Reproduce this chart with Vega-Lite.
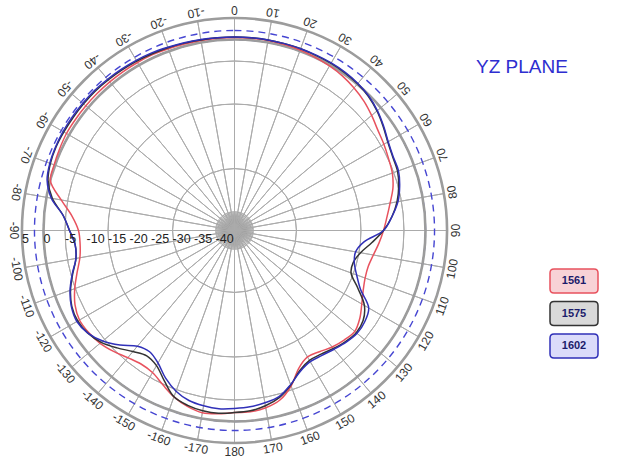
{
  "$schema": "https://vega.github.io/schema/vega-lite/v6.json",
  "width": 425,
  "height": 425,
  "autosize": "none",
  "padding": {"left": 22, "top": 18, "right": 176, "bottom": 16},
  "background": "white",
  "config": {"view": {"stroke": null}},
  "title": {"text": "YZ PLANE", "anchor": "start", "frame": "group", "orient": "top", "offset": 0, "dx": 454, "dy": 88, "baseline": "alphabetic", "align": "left", "font": "Liberation Sans", "fontSize": 19, "fontWeight": "normal", "color": "#2e2ed0"},
  "datasets": {
    "rings": [{"v": 0}, {"v": -5}, {"v": -10}, {"v": -15}, {"v": -20}, {"v": -25}, {"v": -30}, {"v": -35}, {"v": -40}],
    "ringlabels": [{"v": 5}, {"v": 0}, {"v": -5}, {"v": -10}, {"v": -15}, {"v": -20}, {"v": -25}, {"v": -30}, {"v": -35}, {"v": -40}],
    "border": [{"v": 5}],
    "dashed": [{"v": 2.1}],
    "spokes": [{"a":0,"a2":10,"v":5},{"a":10,"a2":20,"v":5},{"a":20,"a2":30,"v":5},{"a":30,"a2":40,"v":5},{"a":40,"a2":50,"v":5},{"a":50,"a2":60,"v":5},{"a":60,"a2":70,"v":5},{"a":70,"a2":80,"v":5},{"a":80,"a2":90,"v":5},{"a":90,"a2":100,"v":5},{"a":100,"a2":110,"v":5},{"a":110,"a2":120,"v":5},{"a":120,"a2":130,"v":5},{"a":130,"a2":140,"v":5},{"a":140,"a2":150,"v":5},{"a":150,"a2":160,"v":5},{"a":160,"a2":170,"v":5},{"a":170,"a2":180,"v":5},{"a":180,"a2":190,"v":5},{"a":190,"a2":200,"v":5},{"a":200,"a2":210,"v":5},{"a":210,"a2":220,"v":5},{"a":220,"a2":230,"v":5},{"a":230,"a2":240,"v":5},{"a":240,"a2":250,"v":5},{"a":250,"a2":260,"v":5},{"a":260,"a2":270,"v":5},{"a":270,"a2":280,"v":5},{"a":280,"a2":290,"v":5},{"a":290,"a2":300,"v":5},{"a":300,"a2":310,"v":5},{"a":310,"a2":320,"v":5},{"a":320,"a2":330,"v":5},{"a":330,"a2":340,"v":5},{"a":340,"a2":350,"v":5},{"a":350,"a2":360,"v":5}],
    "star": [{"a":0,"a2":4,"v":-40},{"a":4,"a2":8,"v":-40},{"a":8,"a2":12,"v":-40},{"a":12,"a2":16,"v":-40},{"a":16,"a2":20,"v":-40},{"a":20,"a2":24,"v":-40},{"a":24,"a2":28,"v":-40},{"a":28,"a2":32,"v":-40},{"a":32,"a2":36,"v":-40},{"a":36,"a2":40,"v":-40},{"a":40,"a2":44,"v":-40},{"a":44,"a2":48,"v":-40},{"a":48,"a2":52,"v":-40},{"a":52,"a2":56,"v":-40},{"a":56,"a2":60,"v":-40},{"a":60,"a2":64,"v":-40},{"a":64,"a2":68,"v":-40},{"a":68,"a2":72,"v":-40},{"a":72,"a2":76,"v":-40},{"a":76,"a2":80,"v":-40},{"a":80,"a2":84,"v":-40},{"a":84,"a2":88,"v":-40},{"a":88,"a2":92,"v":-40},{"a":92,"a2":96,"v":-40},{"a":96,"a2":100,"v":-40},{"a":100,"a2":104,"v":-40},{"a":104,"a2":108,"v":-40},{"a":108,"a2":112,"v":-40},{"a":112,"a2":116,"v":-40},{"a":116,"a2":120,"v":-40},{"a":120,"a2":124,"v":-40},{"a":124,"a2":128,"v":-40},{"a":128,"a2":132,"v":-40},{"a":132,"a2":136,"v":-40},{"a":136,"a2":140,"v":-40},{"a":140,"a2":144,"v":-40},{"a":144,"a2":148,"v":-40},{"a":148,"a2":152,"v":-40},{"a":152,"a2":156,"v":-40},{"a":156,"a2":160,"v":-40},{"a":160,"a2":164,"v":-40},{"a":164,"a2":168,"v":-40},{"a":168,"a2":172,"v":-40},{"a":172,"a2":176,"v":-40},{"a":176,"a2":180,"v":-40},{"a":180,"a2":184,"v":-40},{"a":184,"a2":188,"v":-40},{"a":188,"a2":192,"v":-40},{"a":192,"a2":196,"v":-40},{"a":196,"a2":200,"v":-40},{"a":200,"a2":204,"v":-40},{"a":204,"a2":208,"v":-40},{"a":208,"a2":212,"v":-40},{"a":212,"a2":216,"v":-40},{"a":216,"a2":220,"v":-40},{"a":220,"a2":224,"v":-40},{"a":224,"a2":228,"v":-40},{"a":228,"a2":232,"v":-40},{"a":232,"a2":236,"v":-40},{"a":236,"a2":240,"v":-40},{"a":240,"a2":244,"v":-40},{"a":244,"a2":248,"v":-40},{"a":248,"a2":252,"v":-40},{"a":252,"a2":256,"v":-40},{"a":256,"a2":260,"v":-40},{"a":260,"a2":264,"v":-40},{"a":264,"a2":268,"v":-40},{"a":268,"a2":272,"v":-40},{"a":272,"a2":276,"v":-40},{"a":276,"a2":280,"v":-40},{"a":280,"a2":284,"v":-40},{"a":284,"a2":288,"v":-40},{"a":288,"a2":292,"v":-40},{"a":292,"a2":296,"v":-40},{"a":296,"a2":300,"v":-40},{"a":300,"a2":304,"v":-40},{"a":304,"a2":308,"v":-40},{"a":308,"a2":312,"v":-40},{"a":312,"a2":316,"v":-40},{"a":316,"a2":320,"v":-40},{"a":320,"a2":324,"v":-40},{"a":324,"a2":328,"v":-40},{"a":328,"a2":332,"v":-40},{"a":332,"a2":336,"v":-40},{"a":336,"a2":340,"v":-40},{"a":340,"a2":344,"v":-40},{"a":344,"a2":348,"v":-40},{"a":348,"a2":352,"v":-40},{"a":352,"a2":356,"v":-40},{"a":356,"a2":360,"v":-40}],
    "anglabels": [{"a":0,"t":"0"},{"a":10,"t":"10"},{"a":20,"t":"20"},{"a":30,"t":"30"},{"a":40,"t":"40"},{"a":50,"t":"50"},{"a":60,"t":"60"},{"a":70,"t":"70"},{"a":80,"t":"80"},{"a":90,"t":"90"},{"a":100,"t":"100"},{"a":110,"t":"110"},{"a":120,"t":"120"},{"a":130,"t":"130"},{"a":140,"t":"140"},{"a":150,"t":"150"},{"a":160,"t":"160"},{"a":170,"t":"170"},{"a":180,"t":"180"},{"a":190,"t":"-170"},{"a":200,"t":"-160"},{"a":210,"t":"-150"},{"a":220,"t":"-140"},{"a":230,"t":"-130"},{"a":240,"t":"-120"},{"a":250,"t":"-110"},{"a":260,"t":"-100"},{"a":270,"t":"-90"},{"a":280,"t":"-80"},{"a":290,"t":"-70"},{"a":300,"t":"-60"},{"a":310,"t":"-50"},{"a":320,"t":"-40"},{"a":330,"t":"-30"},{"a":340,"t":"-20"},{"a":350,"t":"-10"}],
    "pattern": [
      {"a":-180,"1561":-2.09,"1575":-2.09,"1602":-3.02},
      {"a":-175,"1561":-1.63,"1575":-1.74,"1602":-2.79},
      {"a":-170,"1561":-1.39,"1575":-1.86,"1602":-3.02},
      {"a":-165,"1561":-2.09,"1575":-2.32,"1602":-3.49},
      {"a":-160,"1561":-3.25,"1575":-3.25,"1602":-4.65},
      {"a":-155,"1561":-4.88,"1575":-5.81,"1602":-6.51},
      {"a":-150,"1561":-6.27,"1575":-8.13,"1602":-8.83},
      {"a":-145,"1561":-6.51,"1575":-8.83,"1602":-9.99},
      {"a":-140,"1561":-5.81,"1575":-7.67,"1602":-9.30},
      {"a":-135,"1561":-4.65,"1575":-5.81,"1602":-6.74},
      {"a":-130,"1561":-3.60,"1575":-3.95,"1602":-4.42},
      {"a":-125,"1561":-3.02,"1575":-2.79,"1602":-2.79},
      {"a":-120,"1561":-2.79,"1575":-2.32,"1602":-2.09},
      {"a":-115,"1561":-3.49,"1575":-2.67,"1602":-2.56},
      {"a":-110,"1561":-4.88,"1575":-3.83,"1602":-3.72},
      {"a":-105,"1561":-6.51,"1575":-5.46,"1602":-5.35},
      {"a":-100,"1561":-7.90,"1575":-6.97,"1602":-6.97},
      {"a":-95,"1561":-8.37,"1575":-7.20,"1602":-7.20},
      {"a":-90,"1561":-8.13,"1575":-6.04,"1602":-6.04},
      {"a":-85,"1561":-6.51,"1575":-4.42,"1602":-4.42},
      {"a":-80,"1561":-3.49,"1575":-1.39,"1602":-1.16},
      {"a":-75,"1561":-0.11,"1575":0.47,"1602":0.70},
      {"a":-70,"1561":0.23,"1575":1.16,"1602":1.28},
      {"a":-65,"1561":0.47,"1575":1.40,"1602":1.51},
      {"a":-60,"1561":0.70,"1575":1.40,"1602":1.63},
      {"a":-55,"1561":0.70,"1575":1.40,"1602":1.63},
      {"a":-50,"1561":0.70,"1575":1.40,"1602":1.63},
      {"a":-45,"1561":0.70,"1575":1.40,"1602":1.63},
      {"a":-40,"1561":0.70,"1575":1.28,"1602":1.51},
      {"a":-35,"1561":0.70,"1575":1.16,"1602":1.40},
      {"a":-30,"1561":0.70,"1575":1.05,"1602":1.28},
      {"a":-25,"1561":0.70,"1575":0.93,"1602":1.16},
      {"a":-20,"1561":0.58,"1575":0.81,"1602":0.93},
      {"a":-15,"1561":0.47,"1575":0.70,"1602":0.81},
      {"a":-10,"1561":0.47,"1575":0.58,"1602":0.70},
      {"a":-5,"1561":0.47,"1575":0.58,"1602":0.58},
      {"a":0,"1561":0.47,"1575":0.58,"1602":0.58},
      {"a":5,"1561":0.47,"1575":0.58,"1602":0.58},
      {"a":10,"1561":0.47,"1575":0.58,"1602":0.58},
      {"a":15,"1561":0.35,"1575":0.58,"1602":0.58},
      {"a":20,"1561":0.23,"1575":0.58,"1602":0.58},
      {"a":25,"1561":0.00,"1575":0.47,"1602":0.58},
      {"a":30,"1561":-0.23,"1575":0.47,"1602":0.58},
      {"a":35,"1561":-0.58,"1575":0.35,"1602":0.47},
      {"a":40,"1561":-1.16,"1575":0.12,"1602":0.23},
      {"a":45,"1561":-1.86,"1575":-0.35,"1602":-0.23},
      {"a":50,"1561":-2.79,"1575":-1.16,"1602":-1.04},
      {"a":55,"1561":-3.72,"1575":-2.21,"1602":-2.09},
      {"a":60,"1561":-4.30,"1575":-3.25,"1602":-3.14},
      {"a":65,"1561":-4.88,"1575":-3.83,"1602":-3.72},
      {"a":70,"1561":-5.35,"1575":-4.07,"1602":-3.83},
      {"a":75,"1561":-6.27,"1575":-4.88,"1602":-4.65},
      {"a":80,"1561":-7.67,"1575":-6.04,"1602":-5.81},
      {"a":85,"1561":-8.83,"1575":-7.67,"1602":-7.67},
      {"a":90,"1561":-9.76,"1575":-9.76,"1602":-9.76},
      {"a":95,"1561":-10.69,"1575":-12.32,"1602":-14.18},
      {"a":100,"1561":-11.62,"1575":-14.64,"1602":-15.81},
      {"a":105,"1561":-12.20,"1575":-15.81,"1602":-15.57},
      {"a":110,"1561":-12.09,"1575":-15.57,"1602":-14.18},
      {"a":115,"1561":-11.39,"1575":-12.78,"1602":-12.09},
      {"a":120,"1561":-10.23,"1575":-9.53,"1602":-8.37},
      {"a":125,"1561":-8.83,"1575":-7.90,"1602":-7.44},
      {"a":130,"1561":-7.90,"1575":-7.44,"1602":-7.20},
      {"a":135,"1561":-8.37,"1575":-7.90,"1602":-7.67},
      {"a":140,"1561":-9.06,"1575":-8.60,"1602":-8.37},
      {"a":145,"1561":-9.99,"1575":-9.30,"1602":-8.95},
      {"a":150,"1561":-10.46,"1575":-9.53,"1602":-9.18},
      {"a":155,"1561":-9.06,"1575":-8.48,"1602":-8.25},
      {"a":160,"1561":-5.93,"1575":-6.16,"1602":-6.27},
      {"a":165,"1561":-3.60,"1575":-4.18,"1602":-4.42},
      {"a":170,"1561":-2.56,"1575":-3.02,"1602":-3.72},
      {"a":175,"1561":-2.09,"1575":-2.32,"1602":-3.25},
      {"a":180,"1561":-2.09,"1575":-2.09,"1602":-3.02}
    ]
  },
  "layer": [
    {
      "data": {"name": "rings"},
      "mark": {"type": "arc", "filled": false, "stroke": "#ababab", "strokeWidth": 1, "theta": 0, "theta2": 6.2832},
      "encoding": {
        "radius": {"field": "v", "type": "quantitative", "scale": {"type": "linear", "domain": [-44.4, 5], "range": [0, 212.5], "zero": false}},
        "radius2": {"value": 0}
      }
    },
    {
      "data": {"name": "star"},
      "mark": {"type": "arc", "filled": false, "stroke": "#8a8a8a", "strokeWidth": 0.5},
      "encoding": {
        "theta": {"field": "a", "type": "quantitative", "stack": null, "scale": {"type": "linear", "domain": [0, 360], "range": [0, 6.283185307179586]}},
        "theta2": {"field": "a2"},
        "radius": {"field": "v", "type": "quantitative", "scale": {"type": "linear", "domain": [-44.4, 5], "range": [0, 212.5], "zero": false}},
        "radius2": {"value": 0}
      }
    },
    {
      "data": {"name": "spokes"},
      "mark": {"type": "arc", "filled": false, "stroke": "#ababab", "strokeWidth": 1},
      "encoding": {
        "theta": {"field": "a", "type": "quantitative", "stack": null, "scale": {"type": "linear", "domain": [0, 360], "range": [0, 6.283185307179586]}},
        "theta2": {"field": "a2"},
        "radius": {"field": "v", "type": "quantitative", "scale": {"type": "linear", "domain": [-44.4, 5], "range": [0, 212.5], "zero": false}},
        "radius2": {"value": 0}
      }
    },
    {
      "data": {"name": "dashed"},
      "mark": {"type": "arc", "filled": false, "stroke": "#4646d2", "strokeWidth": 1.4, "strokeDash": [7, 5], "theta": 0, "theta2": 6.2832},
      "encoding": {
        "radius": {"field": "v", "type": "quantitative", "scale": {"type": "linear", "domain": [-44.4, 5], "range": [0, 212.5], "zero": false}},
        "radius2": {"value": 0}
      }
    },
    {
      "data": {"name": "border"},
      "mark": {"type": "arc", "filled": false, "stroke": "#9c9c9c", "strokeWidth": 2.6, "theta": 0, "theta2": 6.2832},
      "encoding": {
        "radius": {"field": "v", "type": "quantitative", "scale": {"type": "linear", "domain": [-44.4, 5], "range": [0, 212.5], "zero": false}},
        "radius2": {"value": 0}
      }
    },
    {
      "data": {"name": "pattern"},
      "transform": [
        {"fold": ["1561", "1575", "1602"], "as": ["f", "g"]},
        {"calculate": "(datum.g + 44.4) * sin(datum.a * PI / 180)", "as": "px"},
        {"calculate": "(datum.g + 44.4) * cos(datum.a * PI / 180)", "as": "py"}
      ],
      "mark": {"type": "line", "interpolate": "catmull-rom", "strokeWidth": 1.5},
      "encoding": {
        "x": {"field": "px", "type": "quantitative", "scale": {"domain": [-49.4, 49.4], "nice": false, "zero": false}, "axis": null},
        "y": {"field": "py", "type": "quantitative", "scale": {"domain": [-49.4, 49.4], "nice": false, "zero": false}, "axis": null},
        "order": {"field": "a", "type": "quantitative"},
        "stroke": {
          "field": "f", "type": "nominal",
          "scale": {"domain": ["1561", "1575", "1602"], "range": ["#e8525e", "#333333", "#3030b8"]},
          "legend": {
            "orient": "none", "legendX": 535, "legendY": 246, "title": null, "padding": 0,
            "symbolType": "M-1.25,-0.75 L1.25,-0.75 Q1.5,-0.75 1.5,-0.5 L1.5,0.5 Q1.5,0.75 1.25,0.75 L-1.25,0.75 Q-1.5,0.75 -1.5,0.5 L-1.5,-0.5 Q-1.5,-0.75 -1.25,-0.75 Z",
            "symbolSize": 1024, "symbolStrokeWidth": 1.5,
            "labelAlign": "center", "labelOffset": -17, "labelBaseline": "middle",
            "labelFont": "Liberation Sans", "labelFontSize": 11, "labelFontWeight": "bold", "labelColor": "#1c1c6b",
            "rowPadding": 0.5,
            "encode": {"symbols": {"update": {
              "fill": {"signal": "datum.value === '1561' ? '#f8d2d6' : datum.value === '1575' ? '#d9d9d9' : '#dcdcfa'"},
              "stroke": {"signal": "datum.value === '1561' ? '#e88a94' : datum.value === '1575' ? '#505050' : '#7a7ae6'"},
              "opacity": {"value": 1}
            }}}
          }
        }
      }
    },
    {
      "data": {"name": "anglabels"},
      "mark": {"type": "text", "radius": 221, "font": "Liberation Sans", "fontSize": 12, "color": "#333333", "align": "center", "baseline": "middle"},
      "encoding": {
        "theta": {"field": "a", "type": "quantitative", "scale": {"type": "linear", "domain": [0, 360], "range": [0, 6.283185307179586]}},
        "angle": {"field": "a", "type": "quantitative", "scale": {"domain": [0, 360], "range": [-180, 180]}, "legend": null},
        "text": {"field": "t", "type": "nominal"}
      }
    },
    {
      "data": {"name": "ringlabels"},
      "mark": {"type": "text", "theta": 4.71238898, "font": "Liberation Sans", "fontSize": 12.5, "color": "#222222", "align": "left", "baseline": "top", "dy": 2},
      "encoding": {
        "radius": {"field": "v", "type": "quantitative", "scale": {"type": "linear", "domain": [-44.4, 5], "range": [0, 212.5], "zero": false}},
        "text": {"field": "v", "type": "nominal"}
      }
    }
  ]
}
